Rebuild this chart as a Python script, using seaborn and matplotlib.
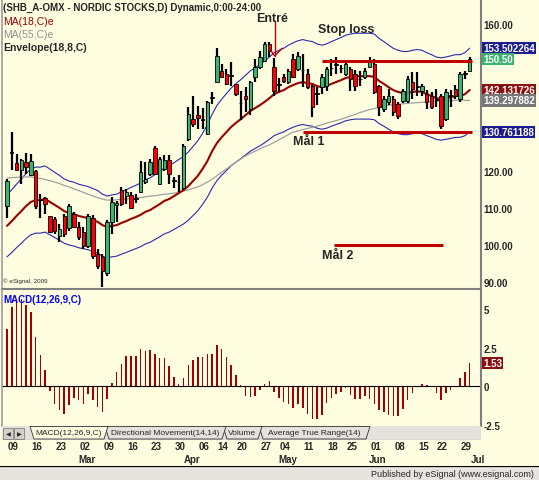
import numpy as np
import matplotlib
matplotlib.use("Agg")
import matplotlib.pyplot as plt
import matplotlib.transforms as mtransforms
from matplotlib.patches import Polygon, Rectangle
import seaborn as sns

# daily bars, 6 Feb - 30 Jun 2009 (bar index 0..97)
opens = [110.7, 125.0, 122.3, 120.4, 122.5, 119.0, 120.1, 112.2, 112.8, 107.9,
         107.0, 102.5, 107.9, 104.6, 108.4, 104.9, 103.6, 99.7, 107.3, 97.5,
         96.7, 92.3, 106.3, 110.9, 115.0, 113.3, 113.6, 112.5, 114.4, 117.1,
         119.3, 126.4, 116.6, 120.7, 123.0, 117.5, 117.0, 115.5, 128.8, 134.2,
         135.3, 134.0, 130.2, 140.0, 144.3, 147.3, 146.5, 146.0, 143.8, 138.5,
         140.5, 137.0, 145.7, 148.4, 150.0, 154.6, 148.4, 143.5, 145.7, 144.3,
         150.5, 147.8, 147.5, 146.5, 143.2, 141.0, 142.9, 143.2, 148.0, 149.0,
         148.0, 146.5, 147.8, 146.5, 145.0, 145.7, 148.4, 149.2, 143.2, 137.0,
         138.9, 139.7, 138.3, 139.1, 139.1, 144.3, 143.0, 141.8, 141.0, 140.5,
         139.5, 140.5, 134.2, 140.5, 142.4, 139.7, 146.5, 147.3]
highs = [117.9, 130.7, 124.7, 123.4, 125.0, 124.7, 120.4, 113.9, 113.0, 108.0,
         107.5, 105.7, 108.4, 111.1, 109.0, 106.3, 104.9, 108.4, 108.2, 98.9,
         97.5, 106.8, 113.0, 112.0, 115.8, 115.2, 114.4, 113.9, 122.8, 122.6,
         123.4, 126.9, 123.9, 124.5, 124.6, 118.5, 119.0, 127.5, 137.5, 140.5,
         137.8, 137.2, 139.1, 141.6, 153.5, 149.2, 147.8, 149.7, 143.8, 141.8,
         143.0, 144.6, 150.5, 152.7, 155.2, 155.2, 150.8, 145.5, 146.5, 147.8,
         151.9, 152.4, 152.0, 147.8, 143.5, 143.0, 146.5, 148.5, 150.5, 151.0,
         148.8, 150.0, 148.5, 147.5, 147.3, 148.0, 151.0, 150.5, 143.5, 140.5,
         142.4, 140.5, 139.0, 142.5, 145.9, 147.0, 147.0, 143.8, 142.0, 141.5,
         142.4, 141.0, 142.4, 142.0, 143.5, 147.0, 147.3, 151.0]
lows = [107.3, 120.5, 120.1, 116.5, 119.3, 118.8, 109.8, 107.3, 108.4, 103.3,
        103.0, 100.8, 102.2, 103.8, 104.5, 101.4, 99.0, 99.2, 96.2, 93.5,
        88.6, 91.5, 103.0, 106.3, 110.6, 111.1, 109.8, 111.4, 114.1, 116.6,
        118.8, 119.0, 116.3, 120.0, 116.6, 115.5, 114.5, 115.0, 128.3, 132.1,
        131.5, 131.5, 129.9, 138.3, 144.0, 145.4, 143.5, 143.2, 140.5, 134.0,
        136.1, 135.3, 144.3, 147.8, 149.7, 151.0, 140.5, 141.5, 144.0, 143.8,
        145.4, 147.3, 143.0, 142.4, 134.8, 138.0, 141.0, 141.8, 146.0, 146.5,
        146.8, 146.0, 141.8, 141.8, 143.2, 145.0, 148.0, 141.0, 135.0, 136.1,
        138.0, 135.0, 134.2, 138.5, 138.5, 139.7, 140.5, 140.5, 137.0, 137.0,
        137.5, 131.5, 133.7, 137.5, 139.7, 139.0, 145.0, 147.0]
closes = [117.5, 125.0, 120.4, 123.2, 121.2, 122.8, 110.6, 112.2, 111.1, 103.5,
          103.7, 104.3, 103.0, 110.6, 104.9, 102.2, 99.7, 107.9, 97.0, 94.3,
          92.9, 106.3, 111.7, 111.4, 111.1, 114.4, 110.0, 112.5, 119.8, 118.0,
          122.6, 119.3, 123.4, 123.2, 119.3, 117.5, 117.0, 126.9, 135.6, 132.9,
          134.5, 134.0, 138.9, 140.0, 151.4, 145.7, 143.8, 146.0, 141.0, 138.5,
          139.7, 144.3, 148.4, 151.1, 154.6, 152.7, 141.8, 143.5, 144.6, 147.3,
          145.7, 151.4, 147.5, 143.0, 137.5, 141.0, 145.7, 147.8, 148.0, 149.0,
          148.0, 149.2, 145.1, 143.2, 145.0, 147.3, 150.3, 141.6, 137.5, 139.7,
          140.5, 136.1, 135.0, 141.8, 145.1, 142.4, 143.0, 143.2, 138.9, 137.5,
          139.5, 132.3, 141.6, 140.5, 140.5, 146.5, 146.5, 150.5]

# MA(18) and MA(55) of close, as drawn
ma18 = [105.2, 106.5, 107.9, 109.2, 110.6, 111.7, 112.2, 112.2, 112.5, 111.7,
        110.9, 110.1, 109.2, 108.7, 108.4, 107.9, 107.6, 107.3, 106.8, 106.3,
        105.4, 104.9, 105.2, 105.4, 106.0, 106.5, 107.1, 107.6, 108.2, 109.0,
        109.5, 110.3, 111.1, 112.0, 112.5, 113.3, 114.1, 114.9, 116.0, 117.4,
        118.8, 120.7, 122.8, 125.5, 127.7, 129.3, 130.7, 132.1, 133.2, 134.2,
        135.3, 136.4, 137.2, 138.0, 138.9, 139.9, 141.0, 141.6, 142.1, 142.9,
        143.5, 144.0, 144.3, 144.0, 143.8, 143.2, 142.9, 143.2, 143.8, 144.3,
        144.8, 145.4, 145.7, 145.9, 145.9, 145.9, 145.9, 145.7, 144.6, 143.8,
        142.9, 142.1, 141.6, 141.3, 141.3, 141.6, 141.8, 141.6, 141.0, 140.5,
        139.9, 139.7, 139.9, 140.2, 140.5, 140.5, 141.0, 142.131726]
ma55 = [118.2, 118.3, 118.4, 118.5, 118.5, 118.5, 118.3, 118.1, 117.8, 117.5,
        117.1, 116.7, 116.2, 115.8, 115.3, 114.8, 114.3, 113.8, 113.3, 112.9,
        112.5, 112.2, 112.2, 112.3, 112.4, 112.5, 112.6, 112.8, 112.9, 113.1,
        113.3, 113.4, 113.6, 113.8, 113.9, 114.1, 114.4, 114.7, 115.0, 115.4,
        115.8, 116.4, 117.1, 117.9, 118.8, 119.8, 120.7, 121.6, 122.5, 123.4,
        124.2, 124.9, 125.5, 126.1, 126.7, 127.2, 127.9, 128.6, 129.3, 130.0,
        130.7, 131.0, 131.4, 131.7, 132.0, 132.3, 132.7, 133.1, 133.5, 133.8,
        134.2, 134.6, 135.1, 135.5, 136.0, 136.4, 136.8, 137.1, 137.4, 137.7,
        138.0, 138.1, 138.2, 138.4, 138.5, 138.6, 138.7, 138.8, 138.9, 139.0,
        139.1, 139.2, 139.2, 139.3, 139.3, 139.4, 139.3, 139.297882]
env_pct = 0.08

# MACD(12,26,9) histogram
macd_hist = [3.71, 5.12, 5.49, 5.66, 5.29, 4.79, 3.22, 2.03, 1.08, -0.28,
             -1.14, -1.51, -1.79, -1.21, -0.78, -0.86, -1.12, -0.48, -0.86, -1.32,
             -1.64, -0.82, 0.19, 0.95, 1.43, 1.99, 1.99, 1.99, 2.42, 2.31,
             2.35, 2.10, 1.84, 1.81, 1.32, 0.63, 0.15, 0.54, 1.38, 1.71,
             1.90, 1.90, 2.10, 2.10, 2.68, 2.42, 1.88, 1.38, 0.73, 0.09,
             -0.60, -0.67, -0.60, -0.25, 0.17, 0.32, -0.39, -0.78, -1.04, -1.15,
             -1.43, -1.15, -1.43, -1.79, -2.12, -2.12, -1.86, -1.09, -0.78, -0.50,
             -0.35, -0.13, -0.56, -0.82, -0.82, -0.60, -0.82, -1.15, -1.51, -1.64,
             -1.84, -1.90, -1.95, -1.47, -0.86, -0.43, 0.04, 0.15, 0.09, 0.04,
             -0.45, -0.86, -0.43, -0.24, -0.06, 0.52, 0.95, 1.53]

# date axis
date_ticks = [1, 6, 11, 16, 21, 26, 31, 36, 41, 45, 49, 54, 58, 63, 68, 72, 77, 82, 87, 91, 96]
date_labels = ['09', '16', '23', '02', '09', '16', '23', '30', '06', '14', '20',
               '27', '04', '11', '18', '25', '01', '08', '15', '22', '29']
month_ticks = [16, 38, 58, 77, 98]
month_labels = ['Mar', 'Apr', 'May', 'Jun', 'Jul']

# drawn levels: (price, first bar, last bar)
stop_loss = (150.0, 66, 97.5)
target1 = (130.7, 62, 97.5)
target2 = (100.0, 68.5, 91.5)
entry_bar, entry_price = 56, 151.4

price_ticks = [90, 100, 110, 120, 160]
macd_ticks = [-2.5, 0, 2.5, 5]

sns.set_theme(style='white')
plt.rcParams['font.family'] = ['Liberation Sans', 'DejaVu Sans']

BG = '#fffde0'
GREEN = '#3cb371'
RED = '#ff0000'
W, H = 539, 481


def box(x0, y0, x1, y1):
    return [x0 / W, 1 - y1 / H, (x1 - x0) / W, (y1 - y0) / H]


fig = plt.figure(figsize=(W / 100, H / 100), dpi=100, facecolor=BG)
xlim = (-1.05, 99.37)

# ---------- price panel ----------
ax = fig.add_axes(box(2, 1, 481, 290))
ax.set_facecolor(BG)
idx = np.arange(len(closes))
o, h, l, c = map(np.array, (opens, highs, lows, closes))
ma18a = np.array(ma18)

sns.lineplot(x=idx, y=ma18a * (1 + env_pct), ax=ax, color='#2a2ab0', lw=0.8, zorder=2)
sns.lineplot(x=idx, y=ma18a * (1 - env_pct), ax=ax, color='#2a2ab0', lw=0.8, zorder=2)
sns.lineplot(x=idx, y=ma55, ax=ax, color='#a0a0a0', lw=0.9, zorder=2)
sns.lineplot(x=idx, y=ma18a, ax=ax, color='#990000', lw=1.5, zorder=2)

cols = np.where(c > o, GREEN, np.where(c < o, RED, 'black'))
ax.vlines(idx, l, h, color='black', lw=1.6, zorder=3)
ax.bar(idx, np.maximum(np.abs(c - o), 0.2), bottom=np.minimum(o, c), width=0.72,
       color=cols, edgecolor='black', linewidth=0.6, zorder=4)

for lvl, x0, x1 in (stop_loss, target1, target2):
    ax.hlines(lvl, x0, x1, color='#c00000', lw=2.2, zorder=5)

ax.plot([entry_bar + 0.1, entry_bar + 0.1], [entry_price + 9.5, entry_price], color='#c00000', lw=1.0, zorder=5)
ax.plot([entry_bar - 1.2, entry_bar + 0.1, entry_bar + 1.7], [entry_price + 2.4, entry_price, entry_price + 2.1],
        color='#c00000', lw=1.0, zorder=5)

ax.text(55.6, 161.6, 'Entré', ha='center', va='center', fontsize=9, fontweight='bold')
ax.text(71.1, 158.7, 'Stop loss', ha='center', va='center', fontsize=9, fontweight='bold')
ax.text(63.3, 128.2, 'Mål 1', ha='center', va='center', fontsize=9, fontweight='bold')
ax.text(69.4, 97.2, 'Mål 2', ha='center', va='center', fontsize=9, fontweight='bold')

ax.text(0.002, 0.992, '(SHB_A-OMX - NORDIC STOCKS,D) Dynamic,0:00-24:00', transform=ax.transAxes,
        ha='left', va='top', fontsize=7, fontweight='bold')
ax.text(0.002, 0.945, 'MA(18,C)e', transform=ax.transAxes, ha='left', va='top', fontsize=7.5, color='#990000')
ax.text(0.002, 0.900, 'MA(55,C)e', transform=ax.transAxes, ha='left', va='top', fontsize=7.5, color='#909090')
ax.text(0.002, 0.855, 'Envelope(18,8,C)', transform=ax.transAxes, ha='left', va='top', fontsize=7.5,
        fontweight='bold')
ax.text(0.002, 0.02, '© eSignal, 2009', transform=ax.transAxes, ha='left', va='bottom', fontsize=4.5)

ax.set_xlim(*xlim)
ax.set_ylim(88.04, 166.6)
ax.set_xticks([])
ax.set_xlabel('')
ax.set_ylabel('')
ax.yaxis.tick_right()
ax.set_yticks(price_ticks)
ax.set_yticklabels([f'{v:.2f}' for v in price_ticks], fontsize=7, fontweight='bold')
ax.tick_params(axis='y', length=0, pad=2)
ax.spines['top'].set_visible(False)
ax.spines['left'].set_color('#a0a0a0')
ax.spines['right'].set_color('#808080')
ax.spines['right'].set_linewidth(1.5)
ax.spines['bottom'].set_color('#808080')
ax.spines['bottom'].set_linewidth(1.5)

tf = mtransforms.blended_transform_factory(fig.transFigure, ax.transData)
tags = [(ma18a[-1] * (1 + env_pct), '#1c1c8c'), (closes[-1], GREEN), (ma18[-1], '#8b1010'),
        (ma55[-1], '#777777'), (ma18a[-1] * (1 - env_pct), '#1c1c8c')]
for val, face in tags:
    txt = f'{val:.2f}' if val == closes[-1] else f'{val:.6f}'
    ax.text(483 / W, val, txt, transform=tf, ha='left', va='center', fontsize=7, fontweight='bold',
            color='white', clip_on=False, zorder=7,
            bbox=dict(boxstyle='square,pad=0.12', fc=face, ec='none'))

# ---------- MACD panel ----------
ax2 = fig.add_axes(box(2, 291, 481, 427))
ax2.set_facecolor(BG)
sns.barplot(x=idx, y=macd_hist, ax=ax2, native_scale=True, orient='x', width=0.32, color='#a00000',
            saturation=1, errorbar=None, linewidth=0)
ax2.axhline(0, color='black', lw=0.8, zorder=1)
ax2.set_xlim(*xlim)
ax2.set_ylim(-2.58, 6.25)
ax2.set_xticks([])
ax2.set_xlabel('')
ax2.set_ylabel('')
ax2.yaxis.tick_right()
ax2.set_yticks(macd_ticks)
ax2.set_yticklabels(['-2.5', '0', '2.5', '5'], fontsize=7, fontweight='bold')
ax2.tick_params(axis='y', length=0, pad=2)
ax2.spines['top'].set_visible(False)
ax2.spines['bottom'].set_visible(False)
ax2.spines['left'].set_color('#a0a0a0')
ax2.spines['right'].set_color('#808080')
ax2.spines['right'].set_linewidth(1.5)
ax2.text(0.002, 0.97, 'MACD(12,26,9,C)', transform=ax2.transAxes, ha='left', va='top', fontsize=7,
         fontweight='bold', color='#0000ff')
tf2 = mtransforms.blended_transform_factory(fig.transFigure, ax2.transData)
ax2.text(483 / W, macd_hist[-1], f'{macd_hist[-1]:.2f}', transform=tf2, ha='left', va='center', fontsize=7,
         fontweight='bold', color='white', clip_on=False, zorder=7,
         bbox=dict(boxstyle='square,pad=0.12', fc='#8b1010', ec='none'))

# ---------- tab strip ----------
axt = fig.add_axes(box(2, 427, 481, 441))
axt.set_xlim(2, 481)
axt.set_ylim(441, 427)
axt.set_facecolor('#e4e2dc')
for s in axt.spines.values():
    s.set_visible(False)
axt.set_xticks([])
axt.set_yticks([])
for x0, sym in ((3, '◀'), (14, '▶')):
    axt.add_patch(Rectangle((x0, 429), 10, 11, fc='#d4d0c8', ec='#808080', lw=0.6))
    axt.text(x0 + 5, 434.5, sym, ha='center', va='center', fontsize=4.5, family='DejaVu Sans')
tabs = [(30, 108, 'MACD(12,26,9,C)', BG), (105, 226, 'Directional Movement(14,14)', '#e4e2dc'),
        (223, 262, 'Volume', '#e4e2dc'), (259, 370, 'Average True Range(14)', '#e4e2dc')]
for x0, x1, name, fc in reversed(tabs):
    axt.add_patch(Polygon([(x0, 427.5), (x0 + 4, 440), (x1 - 4, 440), (x1, 427.5)], closed=True,
                          fc=fc, ec='#303030', lw=0.6))
    axt.text((x0 + x1) / 2, 434, name, ha='center', va='center', fontsize=6)
axt.axhline(440.5, color='#404040', lw=0.8)

# ---------- date labels ----------
axd = fig.add_axes(box(2, 441, 481, 467))
axd.set_xlim(*xlim)
axd.set_ylim(467, 441)
axd.axis('off')
for pos, lab in zip(date_ticks, date_labels):
    axd.text(pos + 0.3, 447, lab, ha='center', va='center', fontsize=7, fontweight='bold')
for pos, lab in zip(month_ticks, month_labels):
    axd.text(pos + 0.8, 460, lab, ha='center', va='center', fontsize=7, fontweight='bold')

# ---------- status bar ----------
axs = fig.add_axes(box(0, 467, 539, 481))
axs.set_xlim(0, 539)
axs.set_ylim(481, 467)
axs.set_facecolor('#e6e4df')
for s in axs.spines.values():
    s.set_visible(False)
axs.set_xticks([])
axs.set_yticks([])
axs.axhline(467.3, color='black', lw=0.9)
axs.text(534, 474.5, 'Published by eSignal (www.esignal.com)', ha='right', va='center', fontsize=6.5)

fig.savefig('out.png', dpi=100, facecolor=BG)
